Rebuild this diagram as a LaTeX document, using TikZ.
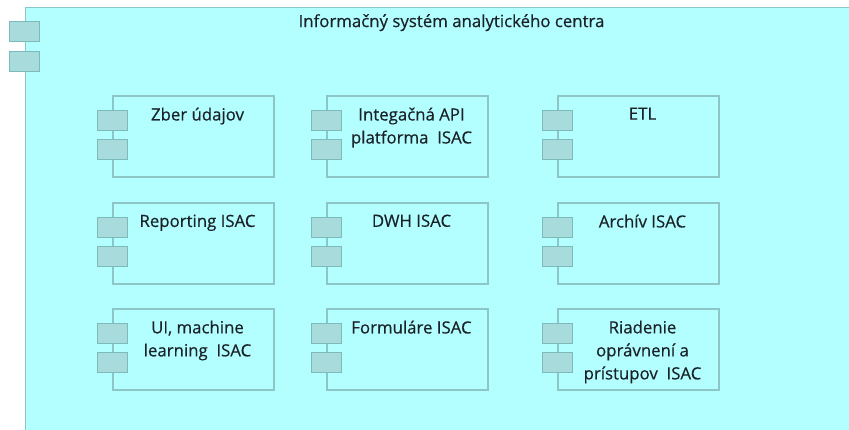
\documentclass[tikz,border=0pt]{standalone}
\usepackage{fontspec}
\setmainfont{Open Sans}
\newfontfamily\compfont{Open Sans}[FakeBold=0.4]
\definecolor{sysfill}{HTML}{B3FFFF}
\definecolor{sysline}{HTML}{8CC6C6}
\definecolor{portfill}{HTML}{A8DCDC}
\definecolor{portline}{HTML}{7DBABA}
\definecolor{labeltext}{HTML}{1A2228}
\begin{document}
\begin{tikzpicture}[x=1pt, y=-1pt,
  comp/.style={draw=sysline, fill=sysfill, line width=1.2pt, minimum width=161pt, minimum height=81pt, inner sep=0pt},
  port/.style={draw=portline, fill=portfill, line width=1pt, minimum width=30pt, minimum height=20pt, inner sep=0pt},
  comptext/.style={anchor=north, inner sep=0pt, align=center, text=labeltext, font=\compfont\fontsize{16.8}{23}\selectfont}]
  \useasboundingbox (0,0) rectangle (849,430);
  \clip (0,0) rectangle (849,430);
  % Draw outer system frame
  \node[comp, minimum width=840pt, minimum height=440pt, anchor=north west] (sys) at (25,7) {};
  \node[port] (sys-p1) at (24,31.5) {};
  \node[port] (sys-p2) at (24,61.5) {};
  \node[comptext] (sys-t) at (451.5,14) {Informačný systém analytického centra};
  % Draw components
  \foreach \name/\x/\y/\txt in {
      zber/193.5/136.5/{Zber údajov},
      api/407.5/136.5/{Integačná API\\platforma\ \ ISAC},
      etl/638.5/136.5/{ETL},
      rep/193.5/243.5/{Reporting ISAC},
      dwh/407.5/243.5/{DWH ISAC},
      arch/638.5/243.5/{Archív ISAC},
      ml/193.5/349.5/{UI, machine\\learning\ \ ISAC},
      form/407.5/349.5/{Formuláre ISAC},
      prist/638.5/349.5/{Riadenie\\oprávnení a\\prístupov\ \ ISAC}} {
    \node[comp] (\name) at (\x,\y) {};
    \node[port] (\name-p1) at ([yshift=15.5pt]\name.west) {};
    \node[port] (\name-p2) at ([yshift=-13.5pt]\name.west) {};
    \node[comptext] (\name-t) at ([xshift=4pt, yshift=-12pt]\name.north) {\txt};
  }
\end{tikzpicture}
\end{document}
